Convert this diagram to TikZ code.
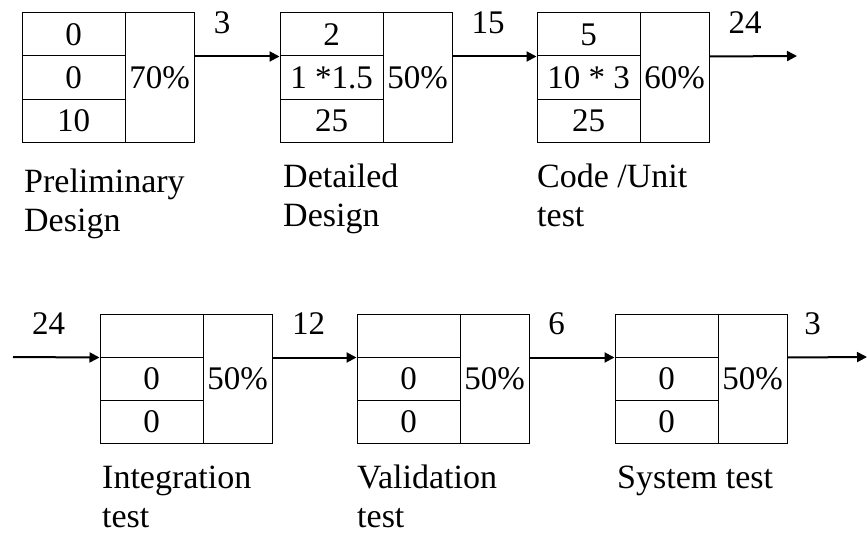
\documentclass[tikz,border=0pt]{standalone}
\usepackage{fontspec}
\setmainfont{Liberation Serif}
\usetikzlibrary{arrows.meta}
\tikzset{
  cell/.style={draw, line width=1pt, minimum width=103pt, minimum height=43pt, inner sep=0pt, font=\fontsize{33}{38}\selectfont},
  pctcell/.style={draw, line width=1pt, minimum width=69pt, minimum height=129pt, inner sep=0pt, font=\fontsize{33}{38}\selectfont},
  flow/.style={line width=2pt, -{Triangle[length=10pt,width=10pt]}},
  numlab/.style={inner sep=0pt, font=\fontsize{33}{38}\selectfont},
  steplab/.style={inner sep=0pt, anchor=north west, align=left, font=\fontsize{34}{39}\selectfont}
}
% \mkbox{name}{left x}{top y}{row1}{row2}{row3}{pct}
\newcommand{\mkbox}[7]{%
  \node[cell] (#1-a) at (#2+51.5,#3+21.5) {#4};
  \node[cell] (#1-b) at (#2+51.5,#3+64.5) {#5};
  \node[cell] (#1-c) at (#2+51.5,#3+107.5) {#6};
  \node[pctcell] (#1-p) at (#2+137.5,#3+64.5) {#7};
}
\begin{document}
\begin{tikzpicture}[x=1pt,y=-1pt]
\useasboundingbox (0,0) rectangle (867,535);
\mkbox{b1}{22}{13}{0}{0}{10}{70\%}
\mkbox{b2}{280}{13}{2}{1 *1.5}{25}{50\%}
\mkbox{b3}{537}{13}{5}{10 * 3}{25}{60\%}
\mkbox{b4}{100}{314}{}{0}{0}{50\%}
\mkbox{b5}{357}{314}{}{0}{0}{50\%}
\mkbox{b6}{615}{314}{}{0}{0}{50\%}
\coordinate (out3) at (797,56);
\coordinate (in4) at (13,357);
\coordinate (out6) at (867,357);
\draw[flow] (b1-p.east |- b1-a.south) -- (b2-a.south west);
\draw[flow] (b2-p.east |- b2-a.south) -- (b3-a.south west);
\draw[flow] (b3-p.east |- b3-a.south) -- (out3);
\draw[flow] (in4) -- (b4-a.south west);
\draw[flow] (b4-p.east |- b4-a.south) -- (b5-a.south west);
\draw[flow] (b5-p.east |- b5-a.south) -- (b6-a.south west);
\draw[flow] (b6-p.east |- b6-a.south) -- (out6);
\node[numlab] (l1) at (222,23) {3};
\node[numlab] (l2) at (488,23) {15};
\node[numlab] (l3) at (745,23) {24};
\node[numlab] (l4) at (48.5,324) {24};
\node[numlab] (l5) at (308.5,324) {12};
\node[numlab] (l6) at (556.5,324) {6};
\node[numlab] (l7) at (812.5,324) {3};
\node[steplab] (s1) at (24,169) {Preliminary\\Design};
\node[steplab] (s2) at (283,164) {Detailed\\Design};
\node[steplab] (s3) at (537,164) {Code /Unit\\test};
\node[steplab] (s4) at (102,466) {Integration\\test};
\node[steplab] (s5) at (357,465) {Validation\\test};
\node[steplab] (s6) at (617,466) {System test};
\end{tikzpicture}
\end{document}
